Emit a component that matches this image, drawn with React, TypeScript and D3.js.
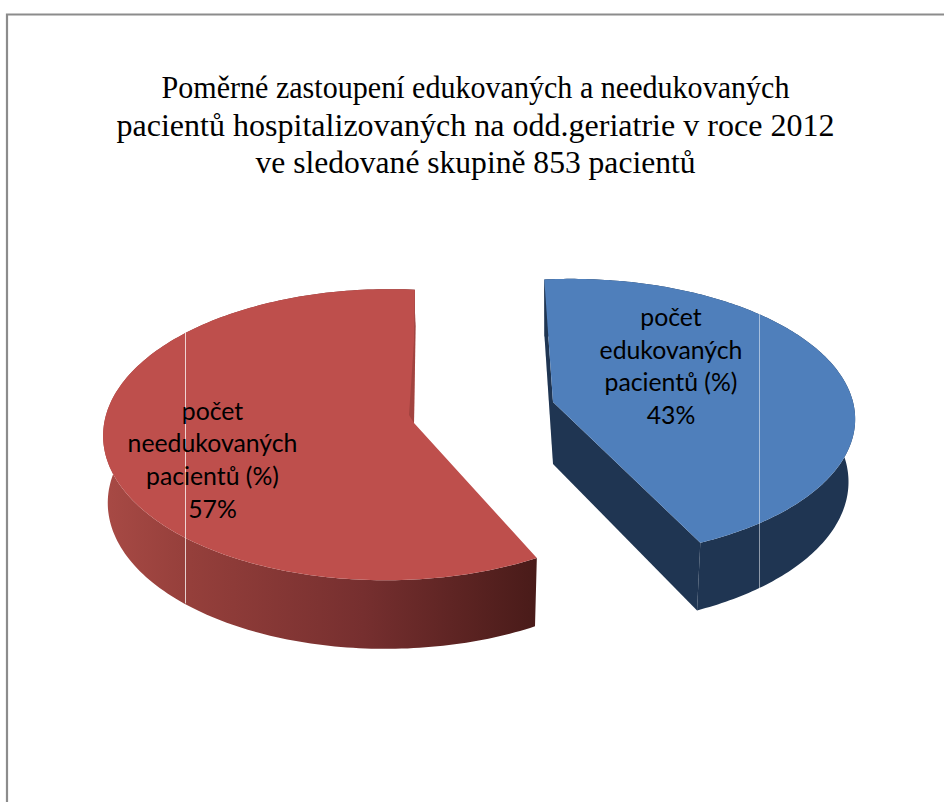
import React from "react";
import * as d3 from "d3";

const categories = ["počet edukovaných pacientů (%)", "počet needukovaných pacientů (%)"];
const shares = [43, 57];
const titleLines = [
  "Poměrné zastoupení edukovaných a needukovaných",
  "pacientů hospitalizovaných na odd.geriatrie v roce 2012",
  "ve sledované skupině 853 pacientů",
];
const titleWidths = [628, 718, 440];
const labelLines = [
  ["počet", "edukovaných", "pacientů (%)", "43%"],
  ["počet", "needukovaných", "pacientů (%)", "57%"],
];

// Perspective of each exploded slice: apex, radii, depth terms and the extrusion.
const views = [
  { ax: 553, ay: 402, rx: 279, ry: 137, k: 0.115, g: -0.07, depth: 62, shrinkX: 0.978, shrinkY: 1.04, turn: -2 },
  { ax: 414, ay: 423, rx: 281, ry: 144, k: 0.08, g: 0.093, depth: 67, shrinkX: 0.985, shrinkY: 1.01, turn: 155 },
];
const labelAnchors = [
  { x: 671, y: 326 },
  { x: 212.5, y: 419.5 },
];
const seamX = [759.5, 185.5];
const topFills = ["#4f7fbb", "#be4f4c"];

type View = (typeof views)[number];

// Projects a point on the disc (angle clockwise from the back, radius 0..1) to the page.
function project(v: View, a: number, r: number, lower: boolean): [number, number] {
  const u = Math.sin(a) * r;
  const w = Math.cos(a) * r;
  const p = 1 / (1 + v.k * w + v.g * u);
  const sx = lower ? v.shrinkX : 1;
  const sy = lower ? v.shrinkY : 1;
  return [v.ax + v.rx * u * p * sx, v.ay - v.ry * w * p * sy + (lower ? v.depth : 0)];
}

const line = d3.line();

export default function App() {
  const pie = d3.pie<number>().sort(null).value((d) => d);
  const arcs = pie(shares);
  const span = (i: number) => arcs[i].endAngle - arcs[i].startAngle;

  const slices = arcs.map((arc, i) => {
    const v = views[i];
    const start = (v.turn * Math.PI) / 180;
    const end = start + span(i);
    const steps = d3.range(0, 181).map((t) => start + ((end - start) * t) / 180);
    const rimTop = steps.map((a) => project(v, a, 1, false));
    const rimLow = steps.map((a) => project(v, a, 1, true));
    const apexTop = project(v, 0, 0, false);
    const apexLow = project(v, 0, 0, true);
    const top = line([apexTop, ...rimTop]) + "Z";
    const wall = line([...rimTop, ...rimLow.slice().reverse()]) + "Z";
    const cutStart = line([apexTop, rimTop[0], rimLow[0], apexLow]) + "Z";
    const cutEnd = line([apexTop, rimTop[180], rimLow[180], apexLow]) + "Z";
    const xs = [...rimTop, ...rimLow];
    const near = xs.filter((p) => Math.abs(p[0] - seamX[i]) < 2.5).map((p) => p[1]);
    return { i, top, wall, cutStart, cutEnd, seamTop: d3.min(near)!, seamLow: d3.max(near)!, apexTop, rimEnd: rimTop[180], label: categories[i] };
  });

  const blue = slices[0];
  const red = slices[1];
  // sliver of the red cut face seen beside the centre of the slice
  const innerFold = line([
    [red.rimEnd[0] + 1, red.rimEnd[1] + 23],
    [red.apexTop[0] - 5, red.apexTop[1] - 8],
    red.apexTop,
  ] as [number, number][]) + "Z";

  return (
    <svg width={944} height={802} viewBox="0 0 944 802" style={{ position: "fixed", left: 0, top: 0, background: "#fff" }}>
      <defs>
        <linearGradient id="redWall" gradientUnits="userSpaceOnUse" x1={103} x2={536} y1={0} y2={0}>
          <stop offset="0" stopColor="#a84a45" />
          <stop offset="0.2" stopColor="#953f3b" />
          <stop offset="0.6" stopColor="#762f2f" />
          <stop offset="1" stopColor="#491b19" />
        </linearGradient>
      </defs>

      <path d="M7 802V14.5H944" fill="none" stroke="#8c8c8c" strokeWidth={2.2} />

      <text textAnchor="middle" fontFamily="'Liberation Serif', serif" fontSize={31} fill="#000">
        {titleLines.map((t, i) => (
          <tspan key={t} x={475.5} y={98 + i * 37.5} textLength={titleWidths[i]} lengthAdjust="spacingAndGlyphs">{t}</tspan>
        ))}
      </text>

      <g>
        <path d={blue.cutStart} fill="#1f3552" />
        <path d={blue.wall} fill="#1f3552" />
        <path d={blue.cutEnd} fill="#1f3552" />
        <path d={blue.top} fill={topFills[0]} />
        <line x1={seamX[0]} x2={seamX[0]} y1={blue.seamTop} y2={blue.seamLow} stroke="#fff" strokeOpacity={0.5} />
      </g>

      <g>
        <path d={red.wall} fill="url(#redWall)" />
        <path d={red.top} fill={topFills[1]} />
        <path d={innerFold} fill="#a2433f" />
        <line x1={seamX[1]} x2={seamX[1]} y1={red.seamTop} y2={red.seamLow} stroke="#fff" strokeOpacity={0.75} />
      </g>

      {labelLines.map((lines, i) => (
        <text key={categories[i]} textAnchor="middle" fontFamily="Lato, sans-serif" fontSize={24.8} fill="#000">
          {lines.map((t, j) => (
            <tspan key={t} x={labelAnchors[i].x} y={labelAnchors[i].y + j * 32.7}>{t}</tspan>
          ))}
        </text>
      ))}
    </svg>
  );
}
